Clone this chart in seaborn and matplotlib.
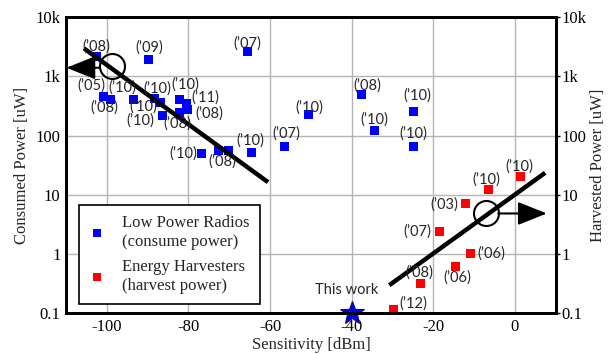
import numpy as np
import pandas as pd
import matplotlib
matplotlib.use("Agg")
import matplotlib.pyplot as plt
from matplotlib.lines import Line2D
import seaborn as sns

# ---------------- data ----------------
radio_sens = [-102.5, -89.7, -65.6, -100.9, -99.2, -93.5, -88.2, -86.8, -86.4, -82.2,
              -80.6, -80.3, -82.1, -76.7, -72.7, -70.2, -64.5, -56.4, -50.5, -37.5,
              -34.5, -24.9, -24.9]
radio_power = [2150, 1900, 2690, 454, 415, 415, 425, 365, 216, 415,
               355, 280, 250, 50, 55, 55, 52, 64.6, 231, 498,
               122, 253, 64.6]
radio_year = ["(’08)", "(’09)", "(’07)", "(’05)", "(’08)", "(’10)", "(’10)", "(’10)", "(’10)", "(’10)",
              "(’11)", "(’08)", "(’08)", "(’10)", "(’08)", "", "(’10)", "(’07)", "(’10)", "(’08)",
              "(’10)", "(’10)", "(’10)"]

harv_sens = [1.35, -6.6, -12.0, -18.5, -10.9, -14.6, -23.2, -29.7]
harv_power = [20.1, 12.4, 7.1, 2.36, 1.03, 0.62, 0.316, 0.113]
harv_year = ["(’10)", "(’10)", "(’03)", "(’07)", "(’06)", "(’06)", "(’08)", "(’12)"]

this_work_sens = [-40]
this_work_power = [0.1]

radio_trend_x = [-105.6, -60.5]
radio_trend_y = [2985, 16.3]
harv_trend_x = [-30.8, 7.4]
harv_trend_y = [0.295, 23.5]

radio_circle = (-98.8, 1517)
radio_arrow = ((-101.9, 1403), (-109.9, 1403))
harv_circle = (-7.1, 5.0)
harv_arrow = ((-4.1, 4.82), (7.8, 4.82))

y_ticks = [0.1, 1, 10, 100, 1000, 10000]
y_ticklabels = ["0.1", "1", "10", "100", "1k", "10k"]
x_ticks = [-100, -80, -60, -40, -20, 0]
x_ticklabels = ["-100", "-80", "-60", "-40", "-20", "0"]

# label offsets in pixels (dx right, dy down)
radio_off = [(0, -10), (0, -12), (0, -7), (-12, -11), (-6, 9), (-11, -11), (2, -10), (-17, 4),
             (-22, 5), (6, -14), (19, -6), (22, 4), (-3, 11), (-19, 0), (4, 11), (0, 0),
             (-1, -12), (2, -13), (0, -7), (5, -9), (0, -11), (4, -16), (0, -13)]
harv_off = [(-1, -10), (-2, -10), (-22, 1), (-22, 0), (21, 0), (2, 11), (-1, -11), (20, -6)]

LABEL_FONT = ["Lato", "DejaVu Sans"]

# ---------------- figure ----------------
sns.set_theme(style="white")
plt.rcParams["font.family"] = ["Liberation Serif", "DejaVu Serif"]
plt.rcParams["axes.linewidth"] = 2.0

fig = plt.figure(figsize=(6.09, 3.54), dpi=100)
ax = fig.add_axes([0.1084, 0.1158, 0.8042, 0.8353])

df = pd.DataFrame({
    "sens": radio_sens + harv_sens,
    "power": radio_power + harv_power,
    "kind": ["radio"] * len(radio_sens) + ["harv"] * len(harv_sens),
})

ax.set_xscale("linear")
ax.set_yscale("log")
ax.set_xlim(-110, 10)
ax.set_ylim(0.1, 10000)

ax.grid(True, which="major", color="#b4b4b4", linewidth=1.0)
ax.set_axisbelow(True)

sns.scatterplot(data=df, x="sens", y="power", hue="kind",
                palette={"radio": "#0000ff", "harv": "#ff0000"},
                marker="s", s=42, linewidth=0, ax=ax, legend=False, zorder=3,
                clip_on=False)

# trend lines
ax.plot(radio_trend_x, radio_trend_y, color="black", lw=3.2, zorder=4, solid_capstyle="butt")
ax.plot(harv_trend_x, harv_trend_y, color="black", lw=3.2, zorder=4, solid_capstyle="butt")

# circles
for c in (radio_circle, harv_circle):
    ax.plot([c[0]], [c[1]], marker="o", markersize=18, markerfacecolor="none",
            markeredgecolor="black", markeredgewidth=1.5, zorder=5)

# arrows
for (start, end) in (radio_arrow, harv_arrow):
    ax.annotate("", xy=end, xytext=start, xycoords="data", textcoords="data",
                arrowprops=dict(arrowstyle="-|>,head_length=1.0,head_width=0.4",
                                color="black", lw=1.5, mutation_scale=18,
                                shrinkA=0, shrinkB=0),
                annotation_clip=False, zorder=5)

# star
ax.plot(this_work_sens, this_work_power, marker="*", markersize=18, color="#0000ff",
        markeredgecolor="#101060", markeredgewidth=0.8, clip_on=False, zorder=6)
ax.annotate("This work", xy=(this_work_sens[0], this_work_power[0]), xytext=(-5, 23),
            textcoords="offset pixels", ha="center", va="center",
            fontsize=10.5, family=LABEL_FONT, zorder=6)

# point labels
for xs, ys, labs, offs in ((radio_sens, radio_power, radio_year, radio_off),
                           (harv_sens, harv_power, harv_year, harv_off)):
    for x, y, lab, (dx, dy) in zip(xs, ys, labs, offs):
        if not lab:
            continue
        ax.annotate(lab, xy=(x, y), xytext=(dx, -dy), textcoords="offset pixels",
                    ha="center", va="center", fontsize=10.5,
                    family=LABEL_FONT, zorder=7,
                    annotation_clip=False)

ax.set_xticks(x_ticks)
ax.set_xticklabels(x_ticklabels)
ax.set_yticks(y_ticks)
ax.set_yticklabels(y_ticklabels)
ax.minorticks_off()
ax.tick_params(axis="both", which="major", labelsize=12, length=0, pad=4, colors="black")
ax.set_xlabel("Sensitivity [dBm]", fontsize=12, labelpad=2)
ax.set_ylabel("Consumed Power [uW]", fontsize=12, labelpad=4)
for s in ax.spines.values():
    s.set_color("black")
    s.set_linewidth(2.0)

ax2 = ax.twinx()
ax2.set_yscale("log")
ax2.set_ylim(ax.get_ylim())
ax2.set_yticks(y_ticks)
ax2.set_yticklabels(y_ticklabels)
ax2.minorticks_off()
ax2.tick_params(axis="y", labelsize=12, length=3, width=1, pad=1, colors="black")
ax2.set_ylabel("Harvested Power [uW]", fontsize=12, labelpad=3)
ax2.grid(False)
for s in ax2.spines.values():
    s.set_color("black")
    s.set_linewidth(2.0)

handles = [
    Line2D([], [], linestyle="none", marker="s", markersize=5.5, color="#0000ff", markeredgewidth=0),
    Line2D([], [], linestyle="none", marker="s", markersize=5.5, color="#ff0000", markeredgewidth=0),
]
leg = ax.legend(handles, ["Low Power Radios\n(consume power)", "Energy Harvesters\n(harvest power)"],
                loc="lower left", bbox_to_anchor=(0.026, 0.03), fontsize=12,
                frameon=True, fancybox=False, framealpha=1, edgecolor="black",
                handlelength=1.0, handletextpad=1.0, labelspacing=0.5,
                borderpad=0.6, borderaxespad=0)
for t in leg.get_texts():
    t.set_linespacing(1.3)
leg.get_frame().set_linewidth(1.2)
leg.set_zorder(8)

fig.savefig("out.png", dpi=100)
